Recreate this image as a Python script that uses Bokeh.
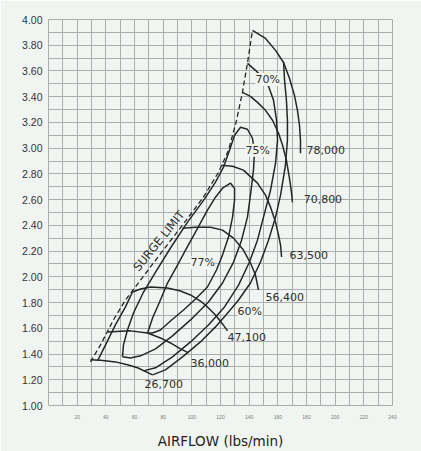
from bokeh.plotting import figure
from bokeh.models import FixedTicker, PrintfTickFormatter, Range1d
from bokeh.core.properties import value
from bokeh.embed import file_html
from bokeh.resources import INLINE

# ---------------- axis ticks ----------------
x_ticks = [20, 40, 60, 80, 100, 120, 140, 160, 180, 200, 220, 240]
x_grid = [0, 10, 20, 30, 40, 50, 60, 70, 80, 90, 100, 110, 120, 130, 140, 150,
          160, 170, 180, 190, 200, 210, 220, 230, 240]
y_ticks = [1.0, 1.2, 1.4, 1.6, 1.8, 2.0, 2.2, 2.4, 2.6, 2.8, 3.0, 3.2, 3.4, 3.6, 3.8, 4.0]
y_grid = [1.0, 1.1, 1.2, 1.3, 1.4, 1.5, 1.6, 1.7, 1.8, 1.9, 2.0, 2.1, 2.2, 2.3, 2.4,
          2.5, 2.6, 2.7, 2.8, 2.9, 3.0, 3.1, 3.2, 3.3, 3.4, 3.5, 3.6, 3.7, 3.8, 3.9, 4.0]

# ---------------- surge limit (dashed) ----------------
surge_x = [29.3, 36.3, 45.3, 53.7, 64.2, 77.4, 93.5, 108.1, 118.6, 125.6, 131.2, 135.3, 138.8, 142.3]
surge_y = [1.339, 1.471, 1.665, 1.820, 1.975, 2.169, 2.402, 2.619, 2.813, 2.984, 3.217, 3.434, 3.659, 3.915]

# ---------------- speed lines (rpm) ----------------
spd_26700_x = [29.3, 36.3, 46.7, 55.1, 62.1, 72.6]
spd_26700_y = [1.355, 1.351, 1.339, 1.316, 1.293, 1.238]

spd_36000_x = [41.2, 57.2, 69.1, 78.1, 85.1, 92.1, 97.7]
spd_36000_y = [1.572, 1.580, 1.564, 1.525, 1.486, 1.440, 1.409]

spd_47100_x = [58.6, 64.2, 71.2, 83.0, 92.1, 99.1, 106.0, 110.9, 116.5, 121.4, 124.9]
spd_47100_y = [1.882, 1.905, 1.921, 1.913, 1.890, 1.859, 1.812, 1.766, 1.704, 1.634, 1.580]

spd_56400_x = [93.5, 102.6, 113.0, 121.4, 129.1, 136.0, 140.9, 144.4, 146.5]
spd_56400_y = [2.378, 2.386, 2.386, 2.363, 2.301, 2.208, 2.107, 2.014, 1.898]

spd_63500_x = [120.7, 128.4, 136.0, 145.8, 151.4, 154.9, 158.4, 160.5, 161.9, 162.6]
spd_63500_y = [2.867, 2.860, 2.829, 2.728, 2.635, 2.542, 2.425, 2.324, 2.246, 2.154]

spd_70800_x = [135.3, 140.9, 145.8, 151.4, 156.3, 160.5, 163.3, 166.0, 168.1, 169.5, 170.2]
spd_70800_y = [3.434, 3.403, 3.356, 3.294, 3.217, 3.116, 3.023, 2.906, 2.767, 2.658, 2.580]

spd_78000_x = [142.3, 151.4, 158.4, 164.0, 168.1, 171.6, 173.7, 175.1, 175.8, 175.8]
spd_78000_y = [3.915, 3.853, 3.760, 3.666, 3.543, 3.410, 3.294, 3.178, 3.062, 2.960]

# ---------------- efficiency contours ----------------
eff_77_x = [69.1, 72.6, 78.1, 83.0, 90.0, 95.6, 103.3, 110.9, 116.5, 121.4, 127.0, 129.8,
            129.8, 128.4, 125.6, 121.4, 117.2, 110.9, 102.6, 94.2, 85.1, 78.1, 72.6, 69.1]
eff_77_y = [1.564, 1.680, 1.820, 1.952, 2.091, 2.208, 2.363, 2.518, 2.619, 2.689, 2.728, 2.689,
            2.596, 2.464, 2.309, 2.169, 2.053, 1.921, 1.828, 1.742, 1.657, 1.587, 1.564, 1.564]

eff_75_x = [51.6, 52.3, 55.1, 59.3, 66.3, 74.7, 85.1, 97.0, 108.8, 116.5, 122.1, 126.3, 129.8,
            134.0, 138.8, 142.3, 143.7, 143.0, 140.9, 138.8, 134.7, 129.1, 121.4, 111.6, 99.1,
            86.5, 74.7, 64.2, 57.2, 51.6]
eff_75_y = [1.378, 1.471, 1.587, 1.719, 1.882, 2.037, 2.224, 2.425, 2.604, 2.736, 2.852, 2.984, 3.100,
            3.162, 3.147, 3.077, 2.968, 2.829, 2.635, 2.464, 2.285, 2.115, 1.952, 1.804, 1.665,
            1.541, 1.440, 1.386, 1.370, 1.378]

eff_70_x = [138.8, 144.4, 149.3, 153.5, 157.0, 159.1, 159.8, 158.4, 154.9, 150.0, 145.8, 140.2,
            132.6, 122.8, 111.6, 99.1, 86.5, 74.7, 66.3]
eff_70_y = [3.659, 3.605, 3.550, 3.481, 3.372, 3.217, 3.062, 2.883, 2.673, 2.464, 2.285, 2.115,
            1.936, 1.766, 1.626, 1.494, 1.378, 1.293, 1.269]

eff_60_x = [164.0, 164.7, 166.0, 166.7, 166.7, 165.3, 161.9, 158.4, 153.5, 147.9, 140.9, 132.6,
            125.6, 116.5, 106.0, 93.5, 81.6, 72.6]
eff_60_y = [3.666, 3.527, 3.372, 3.217, 3.062, 2.867, 2.635, 2.464, 2.285, 2.115, 1.952, 1.820,
            1.727, 1.611, 1.494, 1.378, 1.277, 1.238]

eff_60_left_x = [34.2, 39.8, 46.7, 53.7, 58.6]
eff_60_left_y = [1.347, 1.471, 1.626, 1.766, 1.882]

# ---------------- labels ----------------
speed_labels = ["78,000", "70,800", "63,500", "56,400", "47,100", "36,000", "26,700"]
speed_label_x = [180.0, 178.0, 168.1, 151.4, 124.9, 99.1, 67.0]
speed_label_y = [2.984, 2.604, 2.169, 1.843, 1.533, 1.332, 1.168]

eff_labels = ["70%", "75%", "77%", "60%"]
eff_label_x = [144.4, 137.4, 99.1, 131.9]
eff_label_y = [3.534, 2.984, 2.108, 1.734]

surge_label = ["SURGE LIMIT"]
surge_label_x = [77.0]
surge_label_y = [2.280]

BG = "#f1f5f1"
INK = "#262626"
GRID = "#a7aeab"

p = figure(width=421, height=451, x_range=Range1d(0, 240), y_range=Range1d(1, 4),
           output_backend="svg", toolbar_location=None,
           min_border_left=48, min_border_right=29, min_border_top=19, min_border_bottom=45)
p.background_fill_color = BG
p.border_fill_color = BG
p.outline_line_color = GRID

p.xaxis.ticker = FixedTicker(ticks=x_ticks, minor_ticks=x_grid)
p.yaxis.ticker = FixedTicker(ticks=y_ticks, minor_ticks=y_grid)
p.yaxis.formatter = PrintfTickFormatter(format="%.2f")
for ax in (p.xaxis[0], p.yaxis[0]):
    ax.axis_line_color = None
    ax.major_tick_line_color = None
    ax.minor_tick_line_color = None
    ax.major_tick_out = 0
    ax.major_tick_in = 0
    ax.minor_tick_out = 0
    ax.minor_tick_in = 0
p.yaxis.major_label_text_font = "Liberation Sans"
p.yaxis.major_label_text_font_size = "10.5px"
p.yaxis.major_label_text_color = "#333333"
p.yaxis.major_label_standoff = 6
p.xaxis.major_label_text_font = "Liberation Sans"
p.xaxis.major_label_text_font_size = "5px"
p.xaxis.major_label_text_color = "#7a7a7a"
p.xaxis.major_label_standoff = 9
p.xaxis.axis_label = "AIRFLOW (lbs/min)"
p.xaxis.axis_label_text_font = "DejaVu Sans"
p.xaxis.axis_label_text_font_style = "normal"
p.xaxis.axis_label_text_font_size = "13.5px"
p.xaxis.axis_label_text_color = "#222222"
p.xaxis.axis_label_standoff = 11

for g in (p.xgrid[0], p.ygrid[0]):
    g.grid_line_color = GRID
    g.grid_line_width = 1
    g.minor_grid_line_color = GRID
    g.minor_grid_line_width = 1

# surge limit
p.line(surge_x, surge_y, line_color=INK, line_width=1.3, line_dash="5 3")

# speed lines
for xs, ys in [(spd_26700_x, spd_26700_y), (spd_36000_x, spd_36000_y),
               (spd_47100_x, spd_47100_y), (spd_56400_x, spd_56400_y),
               (spd_63500_x, spd_63500_y), (spd_70800_x, spd_70800_y),
               (spd_78000_x, spd_78000_y)]:
    p.line(xs, ys, line_color=INK, line_width=1.5, line_join="round")

# efficiency islands
for xs, ys in [(eff_77_x, eff_77_y), (eff_75_x, eff_75_y), (eff_70_x, eff_70_y),
               (eff_60_x, eff_60_y), (eff_60_left_x, eff_60_left_y)]:
    p.line(xs, ys, line_color=INK, line_width=1.5, line_join="round")

p.text(x=speed_label_x, y=speed_label_y, text=speed_labels,
       text_font=value("DejaVu Sans"), text_font_size=value("11px"),
       text_color="#2e2e2e", text_align="left", text_baseline="middle")

p.text(x=eff_label_x, y=eff_label_y, text=eff_labels,
       text_font=value("DejaVu Sans"), text_font_size=value("11px"),
       text_color="#2e2e2e", text_align="left", text_baseline="middle",
       background_fill_color=BG, background_fill_alpha=1.0)

p.text(x=surge_label_x, y=surge_label_y, text=surge_label, angle=0.89,
       text_font=value("DejaVu Sans"), text_font_size=value("11.5px"),
       text_color="#2e2e2e", text_align="center", text_baseline="middle")

open("out.html", "w").write(file_html(p, INLINE))
